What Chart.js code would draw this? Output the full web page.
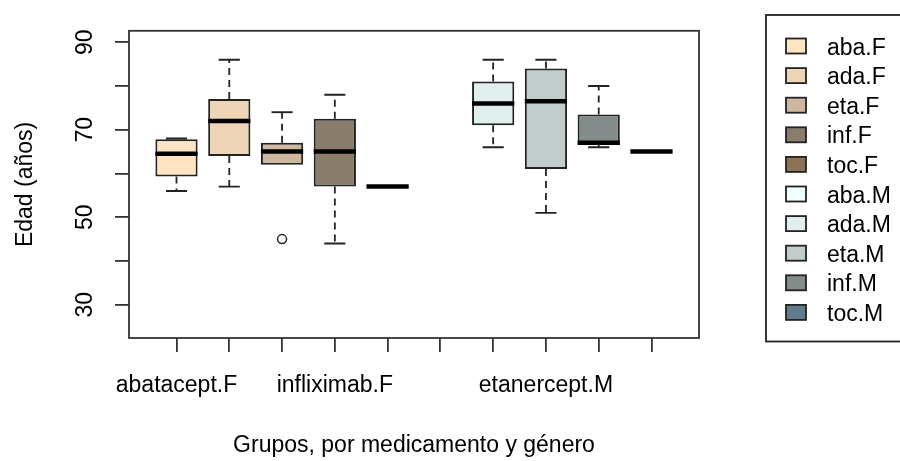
<!DOCTYPE html>
<html>
<head>
<meta charset="utf-8">
<script src="https://cdn.jsdelivr.net/npm/chart.js@4.4.1/dist/chart.umd.min.js"></script>
<style>
  html, body { margin: 0; padding: 0; background: #fff; }
  #wrap { width: 900px; height: 461px; position: relative; }
</style>
</head>
<body>
<div id="wrap"><canvas id="edadChart"></canvas></div>
<script>
// Edad por grupo (medicamento x género): resumen de cinco números por caja
const groups = ['abatacept.F', 'adalimumab.F', 'etanercept.F', 'infliximab.F', 'tocilizumab.F',
                'abatacept.M', 'adalimumab.M', 'etanercept.M', 'infliximab.M', 'tocilizumab.M'];
const legendLabels = ['aba.F', 'ada.F', 'eta.F', 'inf.F', 'toc.F', 'aba.M', 'ada.M', 'eta.M', 'inf.M', 'toc.M'];
const groupColors = ['#FFE4C4', '#EED5B7', '#CDB79E', '#8B7D6B', '#8B7355',
                     '#F0FFFF', '#E0EEEE', '#C1CDCD', '#838B8B', '#607B8B'];

const whiskerLow  = [56,   57, 62, 44,   57, null, 66, 51,   66,   65];
const lowerQ      = [59.3, 64, 62, 57,   57, null, 71, 61,   66.5, 65];
const medians     = [64.5, 72, 65, 65,   57, null, 76, 76.5, 67,   65];
const upperQ      = [67.8, 77, 67, 72.5, 57, null, 81, 84,   73.5, 65];
const whiskerHigh = [68,   86, 74, 78,   57, null, 86, 86,   80,   65];

// puntos atípicos: posición del grupo (1..10) y edad
const outlierGroup = [3];
const outlierAge = [45];

const yTicks = [30, 40, 50, 60, 70, 80, 90];
const yTickLabels = [30, 50, 70, 90];
const xLabelIdx = [0, 3, 7];   // etiquetas que R deja sin solapar

const FONT = "'Liberation Sans', Arial, sans-serif";
const INK = '#222';

const boxData = [];
groups.forEach((g, i) => {
  if (lowerQ[i] == null) return;
  boxData.push({ x: i + 1, y: [lowerQ[i], upperQ[i]], idx: i });
});

const outlierData = outlierGroup.map((g, i) => ({ x: g, y: outlierAge[i] }));

// bigotes, medianas y marco del gráfico
const boxplotParts = {
  id: 'boxplotParts',
  afterDatasetsDraw(chart) {
    const { ctx, chartArea, scales: { y } } = chart;
    const meta = chart.getDatasetMeta(0);
    ctx.save();
    meta.data.forEach((bar, k) => {
      const i = boxData[k].idx;
      const cx = bar.x;
      const half = bar.width / 2;
      const yMed = y.getPixelForValue(medians[i]);
      const yQ1 = y.getPixelForValue(lowerQ[i]);
      const yQ3 = y.getPixelForValue(upperQ[i]);
      const yLo = y.getPixelForValue(whiskerLow[i]);
      const yHi = y.getPixelForValue(whiskerHigh[i]);

      ctx.strokeStyle = INK;
      ctx.lineWidth = 1.8;
      ctx.setLineDash([7, 5]);
      ctx.beginPath();
      if (whiskerHigh[i] > upperQ[i]) { ctx.moveTo(cx, yQ3); ctx.lineTo(cx, yHi); }
      if (whiskerLow[i] < lowerQ[i]) { ctx.moveTo(cx, yQ1); ctx.lineTo(cx, yLo); }
      ctx.stroke();

      ctx.setLineDash([]);
      ctx.lineWidth = 1.9;
      ctx.beginPath();
      if (whiskerHigh[i] > upperQ[i] || upperQ[i] > medians[i]) {
        ctx.moveTo(cx - half / 2, yHi); ctx.lineTo(cx + half / 2, yHi);
      }
      if (whiskerLow[i] < lowerQ[i]) {
        ctx.moveTo(cx - half / 2, yLo); ctx.lineTo(cx + half / 2, yLo);
      }
      ctx.stroke();

      ctx.strokeStyle = '#000';
      ctx.lineWidth = 4.5;
      ctx.beginPath();
      ctx.moveTo(cx - half, yMed);
      ctx.lineTo(cx + half, yMed);
      ctx.stroke();
    });

    ctx.strokeStyle = '#333';
    ctx.lineWidth = 1.8;
    ctx.strokeRect(chartArea.left, chartArea.top, chartArea.right - chartArea.left, chartArea.bottom - chartArea.top);
    ctx.restore();
  }
};

// leyenda a la derecha, recortada por el borde
const sideLegend = {
  id: 'sideLegend',
  afterDraw(chart) {
    const { ctx } = chart;
    ctx.save();
    ctx.strokeStyle = INK;
    ctx.lineWidth = 1.8;
    ctx.strokeRect(766, 15, 150, 326.5);
    ctx.font = '23px ' + FONT;
    ctx.textBaseline = 'alphabetic';
    ctx.textAlign = 'left';
    legendLabels.forEach((lab, i) => {
      const cy = 46 + i * 29.6;
      ctx.fillStyle = groupColors[i];
      ctx.fillRect(786, cy - 7.5, 20, 15);
      ctx.lineWidth = 1.8;
      ctx.strokeStyle = INK;
      ctx.strokeRect(786, cy - 7.5, 20, 15);
      ctx.fillStyle = '#000';
      ctx.fillText(lab, 827, cy + 8.5);
    });
    ctx.restore();
  }
};

const ctx = document.getElementById('edadChart');
new Chart(ctx, {
  data: {
    datasets: [
      {
        type: 'bar',
        label: 'Edad',
        data: boxData,
        backgroundColor: boxData.map(d => groupColors[d.idx]),
        borderColor: INK,
        borderWidth: 2,
        borderSkipped: false,
        barPercentage: 0.8,
        categoryPercentage: 1.0
      },
      {
        type: 'scatter',
        label: 'Atípicos',
        data: outlierData,
        pointRadius: 4.5,
        pointBackgroundColor: '#fff',
        pointBorderColor: INK,
        pointBorderWidth: 1.5
      }
    ]
  },
  options: {
    responsive: true,
    maintainAspectRatio: false,
    devicePixelRatio: 1,
    animation: false,
    layout: { padding: { top: 10, right: 201, left: 0, bottom: 0 } },
    plugins: {
      legend: { display: false },
      tooltip: { enabled: false }
    },
    scales: {
      x: {
        type: 'linear',
        offset: false,
        min: 0.1,
        max: 10.9,
        afterBuildTicks: s => { s.ticks = groups.map((g, i) => ({ value: i + 1 })); },
        afterFit: s => { s.height = 123; },
        border: { display: false },
        grid: { offset: false, drawOnChartArea: false, drawTicks: true, tickLength: 14, color: '#333', lineWidth: 1.8 },
        ticks: {
          autoSkip: false,
          maxRotation: 0,
          padding: 20,
          color: '#000',
          font: { family: FONT, size: 23 },
          callback: v => xLabelIdx.includes(v - 1) ? groups[v - 1] : ''
        },
        title: {
          display: true,
          text: 'Grupos, por medicamento y género',
          color: '#000',
          font: { family: FONT, size: 23 },
          padding: { top: 0, bottom: 2 }
        }
      },
      y: {
        type: 'linear',
        min: 22.4,
        max: 92.6,
        afterBuildTicks: s => { s.ticks = yTicks.map(v => ({ value: v })); },
        afterFit: s => { s.width = 129; },
        border: { display: false },
        grid: { drawOnChartArea: false, drawTicks: true, tickLength: 14, color: '#333', lineWidth: 1.8 },
        ticks: {
          minRotation: 90,
          maxRotation: 90,
          crossAlign: 'center',
          padding: 17,
          color: '#000',
          font: { family: FONT, size: 23 },
          callback: v => yTickLabels.includes(v) ? String(v) : ''
        },
        title: {
          display: true,
          text: 'Edad (años)',
          color: '#000',
          font: { family: FONT, size: 23 },
          padding: { top: 12, bottom: 0 }
        }
      }
    }
  },
  plugins: [boxplotParts, sideLegend]
});
</script>
</body>
</html>
